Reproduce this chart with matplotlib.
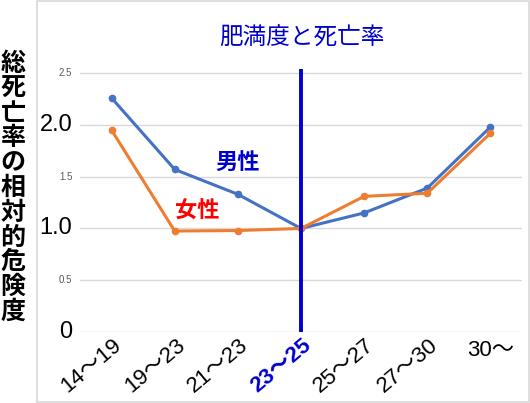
import matplotlib.pyplot as plt
from matplotlib.patches import Rectangle

plt.rcParams['font.family'] = ['Liberation Sans', 'Noto Sans CJK JP']

# data
categories = ['14～19', '19～23', '21～23', '23～25', '25～27', '27～30', '30～']
male = [2.26, 1.57, 1.33, 1.00, 1.15, 1.39, 1.98]
female = [1.95, 0.975, 0.98, 1.00, 1.31, 1.34, 1.92]
yticks = [0, 0.5, 1.0, 1.5, 2.0, 2.5]
ytick_labels = ['0', '0.5', '1.0', '1.5', '2.0', '2.5']

fig = plt.figure(figsize=(5.3, 4.03), dpi=100)
fig.patches.append(Rectangle((37 / 530, 0.002), 492 / 530, 0.995, transform=fig.transFigure,
                             fill=False, edgecolor='#d9d9d9', linewidth=1.2))
ax = fig.add_axes([80 / 530, 71 / 403, 442 / 530, 263 / 403])

x = range(len(categories))
ax.plot(x, male, color='#4472c4', lw=2.2, marker='o', ms=4.5, zorder=3)
ax.plot(x, female, color='#ed7d31', lw=2.2, marker='o', ms=4.5, zorder=3)
ax.axvline(3, color='#0000cc', lw=2.8, zorder=4)

ax.set_xlim(-0.5, 6.5)
ax.set_ylim(0, 2.54)
for s in ax.spines.values():
    s.set_visible(False)
ax.set_yticks(yticks)
ax.yaxis.grid(True, color='#d9d9d9', lw=1)
ax.set_axisbelow(True)
ax.tick_params(length=0)
ax.set_yticklabels([])
ax.set_xticks(list(x))
ax.set_xticklabels([])

# y tick labels: big for whole values, small for halves
for v, lab in zip(yticks, ytick_labels):
    if lab in ('0.5', '1.5', '2.5'):
        ax.text(-0.62, v, lab, ha='right', va='center', fontsize=7, color='#595959')
    else:
        ax.text(-0.62, v, lab, ha='right', va='center', fontsize=17, color='black',
                bbox=dict(facecolor='white', edgecolor='none', pad=1))

# x tick labels
for i, lab in enumerate(categories):
    if i == 6:
        ax.text(i, -0.08, lab, ha='center', va='top', fontsize=16, color='black')
        continue
    col = '#0000cc' if i == 3 else 'black'
    fw = 'semibold' if i == 3 else 'normal'
    ax.text(i + 0.12, -0.1, lab, ha='right', va='center', rotation=40,
            rotation_mode='anchor', fontsize=16, color=col, fontweight=fw)

fig.text(302 / 530, 1 - 38 / 403, '肥満度と死亡率', ha='center', va='center',
         fontsize=17, color='#0000cc', family='Noto Sans CJK JP')
fig.text(13 / 530, 1 - 188 / 403, '\n'.join('総死亡率の相対的危険度'), ha='center', va='center',
         fontsize=18, fontweight='bold', color='black', family='Noto Sans CJK JP',
         linespacing=1.04)
ax.text(2.0, 1.64, '男性', ha='center', va='center', fontsize=16, fontweight='bold',
        color='#0000cc', family='Noto Sans CJK JP')
ax.text(1.35, 1.17, '女性', ha='center', va='center', fontsize=16, fontweight='bold',
        color='#ff0000', family='Noto Sans CJK JP')

plt.savefig('out.png', dpi=100)
